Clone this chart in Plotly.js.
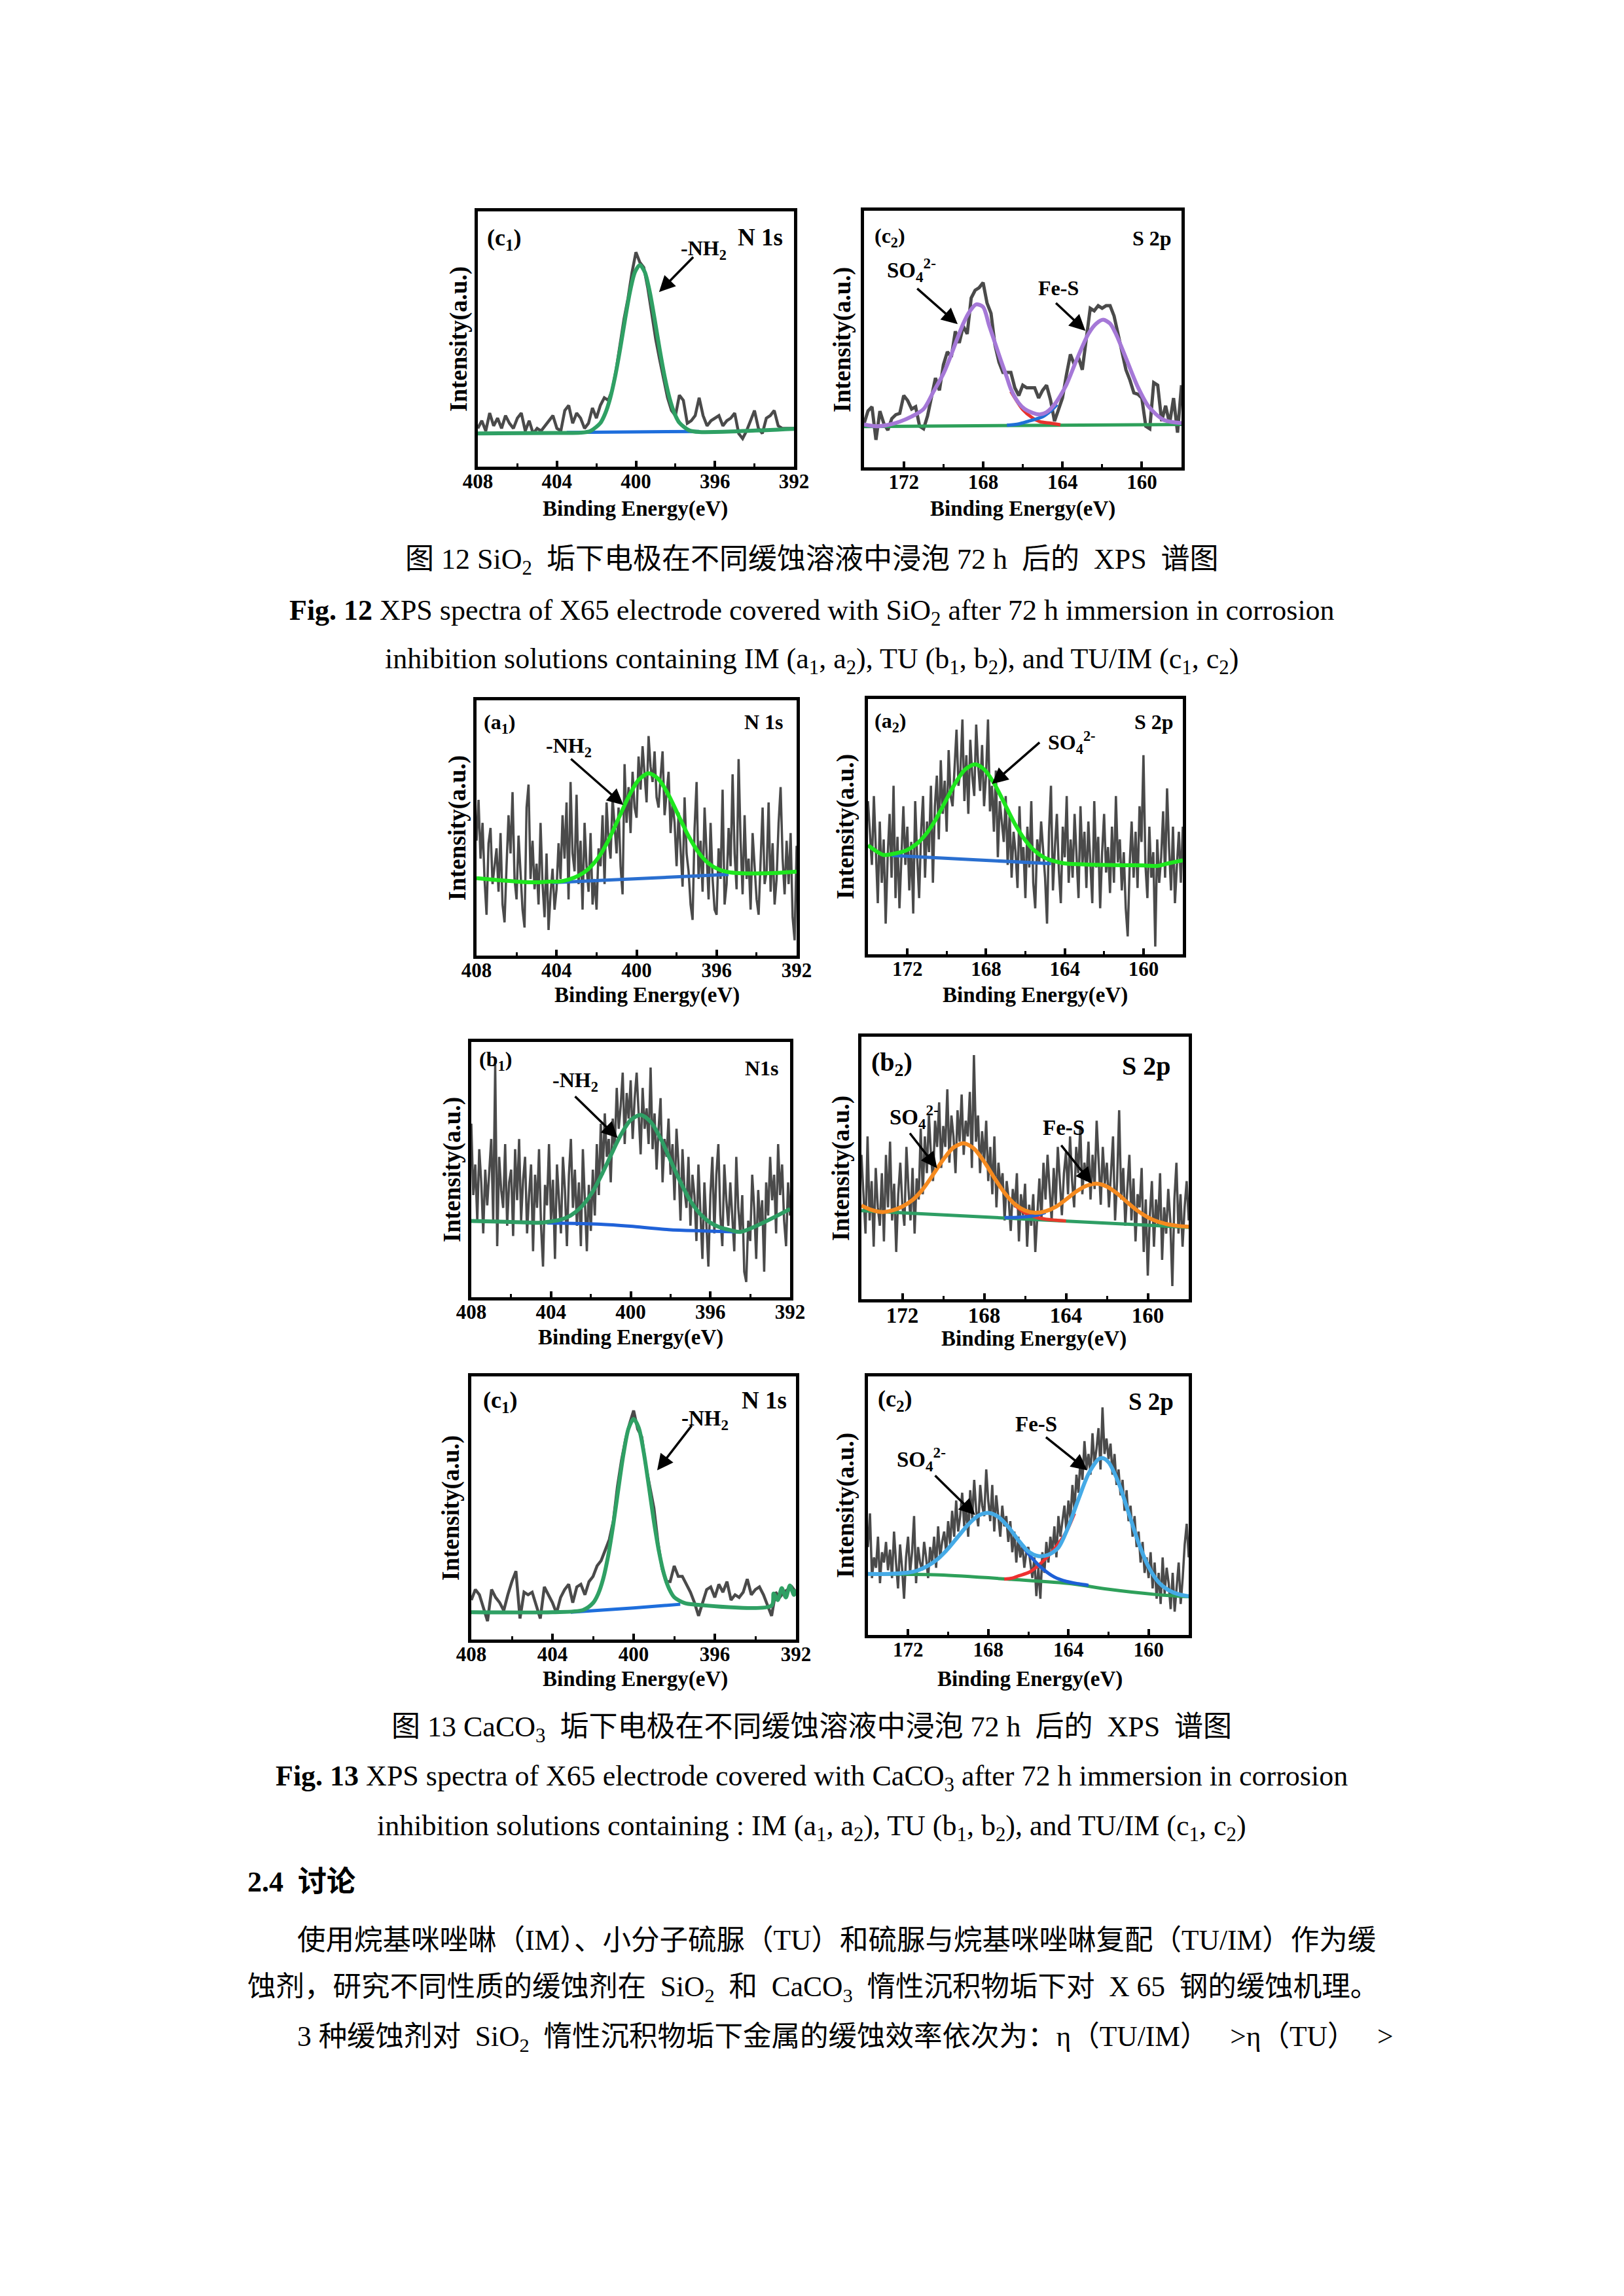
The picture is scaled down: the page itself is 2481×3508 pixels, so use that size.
<!DOCTYPE html>
<html><head><meta charset="utf-8">
<script src="https://cdn.plot.ly/plotly-3.0.1.min.js"></script>
<style>html,body{margin:0;padding:0;background:#fff}</style>
</head><body><div id="page" style="width:2481px;height:3508px"></div>
<script>
// ===== DATA (intensity in arbitrary units, 0..100 of each frame height) =====
// Fig.12 (c1) N 1s, raw from 408 eV, step 0.2 eV
const f12c1_raw=[15,18,14,21,16,19,15,20,17,15,
19,21,14,18,13,15,14,16,18,20,
15,14,22,24,17,21,19,15,17,23,
19,24,27,26,30,38,48,58,66,76,
84,80,78,70,60,50,42,34,27,22,
20,28,26,17,18,20,27,20,16,18,
19,20,16,18,19,21,13,11,14,18,
22,15,13,19,20,22,16,15,15,15,15];
const f12c1_fitE=[408,404,402.8,402.3,401.8,401.55,401.3,401.05,400.8,400.55,400.3,400.05,399.8,399.55,399.3,399.05,398.8,398.55,398.3,398.05,397.8,397.3,396.8,392];
const f12c1_fit=[13,13.2,13.3,14.0,17.1,20.9,26.9,35.4,46,57.7,68.5,76.2,79,76.2,68.5,57.7,46,35.4,26.9,20.9,17.2,14.2,13.6,14.8];
const f12c1_bgE=[403.5,396.8];
const f12c1_bg=[13.4,13.8];

// Fig.12 (c2) S 2p, raw from 174 eV, step 0.2 eV
const f12c2_raw=[17,22,23.6,10.7,21.9,17,14.5,19,20.5,21,
28,26,22.7,23.6,16,15,20,28,34.8,30,
40,45,43,53,48.5,55,52,66,69,70,
72,64,60,47.6,41,37,37,37,31,28,
32,31,31,31,27,30,32,26.2,18,23,
27,36,44,40,43,38,50,62,61,63,
62,63,63,59,52,45,38,34,29,28.5,
27,16,15,33,32,18,24,17,27,13.5,32];
const f12c2_fitE=[174,173.4,172.8,172.2,171.6,171,170.5,170,169.6,169.3,169,168.7,168.35,168,167.7,167.4,167.1,166.8,166.6,166.2,165.9,165.5,165.15,164.8,164.4,164.1,163.8,163.3,162.7,162.3,161.95,161.6,161.3,160.75,160.2,159.65,158.9,158];
const f12c2_fit=[16.7,16,16.5,17.8,19.8,22.7,29.5,36.5,44,50.2,56,60.5,63.5,62.5,55.4,48.5,41.6,35,30.5,25,22.7,21.2,20.6,21.5,24.5,28,32.2,41.6,51.9,56,57.5,56,51.9,41.6,31.3,23.6,18.5,17.2];
const f12c2_bgE=[174,158];
const f12c2_bg=[15.9,16.7];
const f12c2_so4E=[166.6,166,165.5,165.15,164.6,164.1];
const f12c2_so4=[29.6,22.5,19.2,17.8,17.2,16.6];
const f12c2_fesE=[166.8,166.2,165.7,165.0,164.6,164.27];
const f12c2_fes=[16.4,16.9,18,19.7,21.9,24.5];

// Fig.13 (a1) N 1s, raw from 408 eV, step 0.1 eV
const f13a1_raw=[45,61,38,52,30,16,44,50,28,35,
42,25,48,20,13,35,55,40,64,30,
22,47,33,18,11,58,67,30,45,26,
36,20,52,28,15,40,10,24,34,18,
26,44,30,55,38,60,22,68,40,33,
63,28,45,18,52,35,25,48,20,30,
18,42,35,55,28,60,45,38,62,50,
40,58,35,24,75,52,66,48,72,58,
54,78,65,82,70,60,86,74,68,80,
62,58,70,80,55,64,72,48,60,52,
35,56,42,27,62,40,33,20,14,50,
68,30,45,25,58,38,22,52,30,18,
16,42,30,65,20,28,50,35,71,40,
26,77,45,24,55,30,38,18,48,35,
22,16,40,58,28,33,60,25,44,20,
30,52,66,38,24,45,28,48,15,6,43];
const f13a1_fitE=[408,407,406,405,404.4,403.9,403.4,402.9,402.4,401.9,401.4,400.9,400.4,399.9,399.4,398.9,398.4,397.9,397.4,396.9,396.4,395.9,395.4,394.9,394,393,392];
const f13a1_fit=[30.3,29.6,29,28.7,29.0,29.0,29.8,31.3,34,38.5,45.3,53.7,62.2,68.8,71.4,69.1,62.9,54.8,46.8,40.4,36.1,33.8,32.7,32.3,32.2,32.4,32.9];
const f13a1_bgE=[404.2,395.4];
const f13a1_bg=[28.6,31.8];

// Fig.13 (a2) S 2p, raw from 174 eV, step 0.1 eV
const f13a2_raw=[60,48,35,62,40,20,52,28,45,12,
38,55,30,66,22,46,18,40,58,35,
50,25,44,16,60,38,22,48,62,30,
52,40,66,28,58,70,45,76,55,68,
48,80,62,58,74,88,66,72,92,60,
78,55,84,70,62,90,74,64,82,58,
70,92,56,66,48,72,38,60,52,44,
62,35,55,30,48,40,26,58,36,42,
22,50,34,60,28,18,45,36,52,40,
30,12,48,66,25,42,55,33,20,50,
38,62,28,45,30,55,40,22,58,35,
48,26,52,38,20,60,34,46,18,40,
55,32,42,24,50,28,62,36,45,25,
40,18,7,35,52,30,48,26,58,44,
78,35,22,50,30,40,3,45,28,38,
56,30,65,42,25,50,20,35,48,28,50];
const f13a2_fitE=[174,173.6,173.2,172.55,172.05,171.55,171.05,170.55,170.05,169.55,169.05,168.55,168.05,167.55,167.05,166.55,166.05,165.55,165.05,164.55,164,163,162,161,160,159.3,158.8,158];
const f13a2_fit=[42.7,40.5,38.9,39.6,40.7,43.1,47.1,52.9,60.1,67.2,72.5,74.4,72.1,66.4,58.9,51.3,45.1,40.7,37.9,36.5,35.6,35.2,35,34.9,34.8,34.6,35.5,36.8];
const f13a2_bgE=[172.8,168.5,164.7];
const f13a2_bg=[38.7,37.0,35.5];

// Fig.13 (b1) N 1s, raw from 408 eV, step 0.1 eV
const f13b1_raw=[68,40,52,30,58,45,25,50,36,48,
62,30,91,20,55,42,35,60,28,45,
50,24,58,38,62,30,46,55,25,40,
52,18,48,35,58,28,12,44,36,60,
30,46,15,52,38,25,55,42,20,48,
62,35,50,28,45,20,58,38,18,44,
26,50,32,60,40,68,48,72,55,62,
45,70,58,82,66,75,88,60,80,70,
85,62,78,88,70,56,82,66,74,60,
90,58,72,50,66,78,45,62,55,70,
48,60,38,66,52,30,58,42,35,55,
28,48,40,22,52,35,15,45,30,12,
40,55,25,48,60,32,20,52,38,28,
45,30,18,55,35,25,40,10,6,30,
22,48,35,15,42,28,38,10,45,32,
55,38,48,25,60,40,52,30,20,45,32];
const f13b1_fitE=[408,406,404.5,404,403.5,403,402.5,402,401.5,401,400.5,400,399.5,399,398.5,398,397.5,397,396.5,396,395.5,395,394.5,392];
const f13b1_fit=[29.9,29.5,29.2,29.7,30.4,32.1,35.2,40.2,47.3,55.5,63.5,69.4,71.4,68.7,62.2,53.6,45.1,37.7,32.5,29.2,27.3,26.3,25.6,34.6];
const f13b1_bgE=[404.2,401.5,400,398.1,394.5];
const f13b1_bg=[29.1,28.6,27.8,26.5,25.6];

// Fig.13 (b2) S 2p, raw from 174 eV, step 0.1 eV
const f13b2_raw=[55,38,25,62,30,45,20,50,35,28,
48,22,55,35,60,30,44,18,40,52,
36,28,58,42,30,50,25,46,38,65,
40,62,48,70,55,45,68,58,75,50,
66,58,80,52,70,62,48,72,60,78,
55,68,62,79,50,93,60,70,48,64,
52,68,45,58,40,62,35,52,42,48,
30,45,38,26,42,35,48,22,40,32,
44,20,36,28,40,18,33,46,30,52,
38,55,42,30,50,36,58,44,32,48,
56,40,62,45,35,58,48,66,40,52,
45,60,38,55,42,68,50,36,58,44,
52,35,48,62,30,45,72,38,50,28,
42,55,30,46,22,40,35,50,18,38,
9,32,45,20,38,28,48,15,35,25,
42,30,5,38,52,25,40,20,35,45,30];
const f13b2_fitE=[174,173.5,173,172.5,172,171.5,171,170.5,170,169.5,169,168.5,168,167.5,167,166.5,166,165.5,165,164.5,164,163.5,163,162.5,162,161.5,161,160.5,160,159.5,159,158.5,158];
const f13b2_fit=[35.7,34,33.2,33.8,35.3,37.8,41.9,47.4,53.2,57.8,59.4,57.4,52.4,46.2,40.5,36.2,33.8,32.9,33.5,35.2,38,41,43.2,44,42.9,40.3,36.9,33.7,31.2,29.5,28.5,27.9,27.6];
const f13b2_bgE=[174,172.8,158];
const f13b2_bg=[33.7,33.2,27.4];
const f13b2_so4E=[166.5,166,165.5,165,164.5,164];
const f13b2_so4=[35.8,32.9,31.3,30.5,30.1,29.8];
const f13b2_fesE=[167,166.5,166,165.5,165];
const f13b2_fes=[31.1,31.1,31.4,31.9,33.1];

// Fig.13 (c1) N 1s, raw from 408 eV, step 0.2 eV
const f13c1_raw=[15,19,17,12,7,19,16,14,11,17,
22,26,8,18,17,18,13,8,20,17,
14,10,16,19,21,14,20,21,17,22,
24,28,30,34,38,45,58,68,76,82,
87,80,77,66,58,50,37,27,22,22,
28,24,24,21,18,14,9,14,19,20,
16,21,18,22,15,17,16,18,23,17,
19,20,17,13,9,18,16,18,19,20,18];
const f13c1_fitE=[408,404,402.5,402,401.75,401.5,401.25,401,400.75,400.5,400.25,400,399.75,399.5,399.25,399,398.75,398.5,398.25,398,397.5,397,393.2,393.1,392.9,392.7,392.5,392.3,392.1,392];
const f13c1_fit=[10.4,10.4,11.2,13.9,17.3,23.1,32,43.8,57.4,70.5,80.2,83.8,80.5,71.1,58.3,44.9,33.4,24.8,19.3,16.1,13.9,13.3,12.9,17.5,15,19.5,16,20.5,17,19];
const f13c1_bgE=[403.1,400,397.7];
const f13c1_bg=[10.4,12,13.4];

// Fig.13 (c2) S 2p, raw from 174 eV, step 0.1 eV
const f13c2_raw=[34,47,22,30,26,38,20,32,28,36,
25,33,22,40,28,18,35,26,14,30,
38,24,32,46,20,34,28,25,36,30,
22,34,28,38,26,42,30,36,40,32,
44,35,48,38,52,40,46,55,42,50,
38,56,45,60,48,42,58,50,46,64,
52,44,58,40,54,47,38,50,42,46,
36,44,32,40,28,38,30,35,26,32,
34,28,22,30,15,26,14,32,24,36,
28,38,32,42,30,46,38,44,50,40,
52,45,58,48,62,55,68,60,75,64,
70,62,78,66,72,80,64,88,70,76,
68,74,62,70,58,64,54,60,48,56,
44,50,38,46,34,40,28,36,24,30,
22,32,18,28,14,24,12,30,16,26,
20,10,24,9,18,28,12,22,35,43,30];
const f13c2_fitE=[174,173,172,171.5,171,170.5,170,169.5,169,168.5,168,167.5,167,166.5,166,165.5,165,164.5,164,163.5,163,162.5,162.3,162,161.5,161,160.5,160,159.5,159,158.5,158];
const f13c2_fit=[23.6,23.6,24.1,25,26.8,29.5,33.4,38.1,42.7,46.1,47.2,45.7,41.8,36.7,32.3,30.5,31.0,33.8,41.9,52.5,62.3,68,68.4,66.8,58.9,47.3,35.6,26.3,20.4,17.3,15.7,15];
const f13c2_bgE=[174,170.45,166.85,163.85,162.05,159.6,158];
const f13c2_bg=[23.6,23.2,21.5,19.8,17.7,15.6,14.8];
const f13c2_fesE=[167.2,166.8,166.5,165.9,165.3,164.7,164.1,163.7];
const f13c2_fes=[21.6,22,22.8,24.5,28.3,33.3,40,47];
const f13c2_so4E=[166.5,165.9,165.3,164.7,164.1,163.5,163];
const f13c2_so4=[36.5,30.5,25.7,22.4,20.7,19.8,19.2];

const ticksN=[408,404,400,396,392], minorN=[406,402,398,394];
const ticksS=[172,168,164,160], minorS=[170,166,162];

// ===== LAYOUT HELPERS =====
const W=2481,H=3508;
const SERIF="Liberation Serif, 'Noto Sans CJK SC', serif";
const px=x=>x/W, py=y=>1-y/H;
const GRAY='#4a4a4a';

const panels=[
 {L:730,R:1213,T:323,B:713,kind:'N',xt:[971,777],yt:[701,518]},
 {L:1320,R:1805,T:322,B:714,kind:'S',xt:[1562,777],yt:[1287,519]},
 {L:728,R:1217,T:1070,B:1460,kind:'N',xt:[988,1520],yt:[699,1265]},
 {L:1326,R:1807,T:1068,B:1458,kind:'S',xt:[1581,1520],yt:[1292,1263]},
 {L:720,R:1207,T:1592,B:1982,kind:'N',xt:[963,2044],yt:[691,1787]},
 {L:1316,R:1816,T:1584,B:1985,kind:'S',xt:[1579,2045],yt:[1285,1785],big:true},
 {L:720,R:1216,T:2103,B:2505,kind:'N',xt:[970,2565],yt:[689,2304]},
 {L:1326,R:1816,T:2103,B:2498,kind:'S',xt:[1573,2565],yt:[1292,2300]}
];
const ax=i=>i===0?'':String(i+1);

const traces=[];
function raw(i,y,x0,dx,w){traces.push({type:'scatter',mode:'lines',y:y,x0:x0,dx:dx,xaxis:'x'+ax(i),yaxis:'y'+ax(i),line:{color:GRAY,width:w||3.5},hoverinfo:'skip'});}
function curve(i,x,y,color,w,shape){traces.push({type:'scatter',mode:'lines',x:x,y:y,xaxis:'x'+ax(i),yaxis:'y'+ax(i),line:{color:color,width:w,shape:shape||'spline',smoothing:0.8},hoverinfo:'skip'});}

raw(0,f12c1_raw,408,-0.2,4.5);
curve(0,f12c1_bgE,f12c1_bg,'#1e6edc',5,'linear');
curve(0,f12c1_fitE,f12c1_fit,'#2fa064',6);
raw(1,f12c2_raw,174,-0.2,5);
curve(1,f12c2_bgE,f12c2_bg,'#2ea05a',5,'linear');
curve(1,f12c2_so4E,f12c2_so4,'#e8322d',5);
curve(1,f12c2_fesE,f12c2_fes,'#1f6fd6',5);
curve(1,f12c2_fitE,f12c2_fit,'#a578d7',6);
raw(2,f13a1_raw,408,-0.1);
curve(2,f13a1_bgE,f13a1_bg,'#2a6fd0',5,'linear');
curve(2,f13a1_fitE,f13a1_fit,'#1ee61e',6);
raw(3,f13a2_raw,174,-0.1);
curve(3,f13a2_bgE,f13a2_bg,'#2a6fd0',5);
curve(3,f13a2_fitE,f13a2_fit,'#1ee61e',6);
raw(4,f13b1_raw,408,-0.1);
curve(4,f13b1_bgE,f13b1_bg,'#2062d8',5);
curve(4,f13b1_fitE,f13b1_fit,'#2e9e64',6);
raw(5,f13b2_raw,174,-0.1);
curve(5,f13b2_bgE,f13b2_bg,'#2e9e64',5,'linear');
curve(5,f13b2_so4E,f13b2_so4,'#e83a2a',5);
curve(5,f13b2_fesE,f13b2_fes,'#2462d6',5);
curve(5,f13b2_fitE,f13b2_fit,'#f58a1f',6);
raw(6,f13c1_raw,408,-0.2,4.5);
curve(6,f13c1_bgE,f13c1_bg,'#1e6edc',5);
curve(6,f13c1_fitE,f13c1_fit,'#2fa064',6);
raw(7,f13c2_raw,174,-0.1);
curve(7,f13c2_bgE,f13c2_bg,'#2ea05a',5);
curve(7,f13c2_fesE,f13c2_fes,'#ee3030',5);
curve(7,f13c2_so4E,f13c2_so4,'#1d5fd6',5);
curve(7,f13c2_fitE,f13c2_fit,'#45aae6',6);

const layout={width:W,height:H,margin:{l:0,r:0,t:0,b:0},paper_bgcolor:'#fff',plot_bgcolor:'#fff',showlegend:false,annotations:[]};
panels.forEach((p,i)=>{
  const isN=p.kind==='N';
  layout['xaxis'+ax(i)]={domain:[px(p.L),px(p.R)],anchor:'y'+ax(i),range:isN?[408,392]:[174,158],
    tickmode:'array',tickvals:isN?ticksN:ticksS,ticks:'inside',ticklen:9,tickwidth:4,tickcolor:'#000',
    minor:{tickmode:'array',tickvals:isN?minorN:minorS,ticks:'inside',ticklen:5,tickwidth:3,tickcolor:'#000'},
    showline:true,linewidth:5,linecolor:'#000',mirror:true,showgrid:false,zeroline:false,
    tickfont:{family:SERIF,size:p.big?33:31,color:'#000',weight:'bold'},ticklabelstandoff:-9,fixedrange:true};
  layout['yaxis'+ax(i)]={domain:[py(p.B),py(p.T)],anchor:'x'+ax(i),range:[0,100],showticklabels:false,ticks:'',
    showline:true,linewidth:5,linecolor:'#000',mirror:true,showgrid:false,zeroline:false,fixedrange:true};
  layout.annotations.push({xref:'paper',yref:'paper',x:px(p.xt[0]),y:py(p.xt[1]),text:'Binding Energy(eV)',showarrow:false,
    font:{family:SERIF,size:33,color:'#000',weight:'bold'},xanchor:'center',yanchor:'middle'});
  layout.annotations.push({xref:'paper',yref:'paper',x:px(p.yt[0]),y:py(p.yt[1]),text:'Intensity(a.u.)',showarrow:false,textangle:-90,
    font:{family:SERIF,size:37,color:'#000',weight:'bold'},xanchor:'center',yanchor:'middle'});
});

// in-panel labels: [panel, x, y, text, anchor, size]
const labels=[
 [0,407.6,89,'(c<sub>1</sub>)','left',36],[0,392.5,90,'N 1s','right',37],[0,397.8,85,'-NH<sub>2</sub>','left',32],
 [1,173.54,89.7,'(c<sub>2</sub>)','left',32],[1,158.43,89.3,'S 2p','right',32],[1,172.91,76.8,'SO<sub>4</sub><sup>2-</sup>','left',33],[1,165.3,70,'Fe-S','left',32],
 [2,407.7,91,'(a<sub>1</sub>)','left',32],[2,392.6,91.5,'N 1s','right',32],[2,404.6,81.6,'-NH<sub>2</sub>','left',32],
 [3,173.75,91,'(a<sub>2</sub>)','left',32],[3,158.4,91,'S 2p','right',32],[3,164.93,82.9,'SO<sub>4</sub><sup>2-</sup>','left',32],
 [4,407.66,92.7,'(b<sub>1</sub>)','left',32],[4,392.5,89.7,'N1s','right',32],[4,404,84.6,'-NH<sub>2</sub>','left',32],
 [5,173.6,89.8,'(b<sub>2</sub>)','left',40],[5,158.8,89,'S 2p','right',40],[5,172.7,69.4,'SO<sub>4</sub><sup>2-</sup>','left',33],[5,165.2,65.3,'Fe-S','left',33],
 [6,407.5,90.5,'(c<sub>1</sub>)','left',36],[6,392.4,90.9,'N 1s','right',37],[6,397.7,83.4,'-NH<sub>2</sub>','left',33],
 [7,173.58,90.7,'(c<sub>2</sub>)','left',36],[7,158.68,90.3,'S 2p','right',37],[7,166.73,81.4,'Fe-S','left',33],[7,172.62,67.9,'SO<sub>4</sub><sup>2-</sup>','left',33]
];
labels.forEach(l=>layout.annotations.push({xref:'x'+ax(l[0]),yref:'y'+ax(l[0]),x:l[1],y:l[2],text:l[3],showarrow:false,
  xanchor:l[4],yanchor:'middle',font:{family:SERIF,size:l[5],color:'#000',weight:'bold'}}));
// arrows: [panel, headX, headY, tailX, tailY]
const arrows=[
 [0,398.83,68.4,397.05,82.5],
 [1,169.28,55.8,171.37,70],[1,162.84,53.2,164.38,64.4],
 [2,400.66,59,403.33,77.4],
 [3,167.7,66.7,165.23,83.3],
 [4,400.65,62.4,402.84,79],
 [5,170.3,49.9,171.67,63.6],[5,162.73,44,164.27,59],
 [6,398.84,64.3,397.1,81.7],
 [7,163.06,63.7,165.17,76.8],[7,168.65,46.4,170.7,62]
];
arrows.forEach(a=>{const k=ax(a[0]);layout.annotations.push({xref:'x'+k,yref:'y'+k,axref:'x'+k,ayref:'y'+k,x:a[1],y:a[2],ax:a[3],ay:a[4],
  text:'',showarrow:true,arrowhead:2,arrowsize:1.4,arrowwidth:3.5,arrowcolor:'#000'});});

// page text
const T=(x,y,text,size,anchor,bold)=>layout.annotations.push({xref:'paper',yref:'paper',x:px(x),y:py(y),text:text,showarrow:false,
  xanchor:anchor,yanchor:'middle',font:{family:SERIF,size:size,color:'#000',weight:bold?'bold':'normal'}});
T(1240,857,'图 12 SiO<sub>2</sub>  垢下电极在不同缓蚀溶液中浸泡 72 h  后的  XPS  谱图',44,'center');
T(1240,935,'<b>Fig. 12</b> XPS spectra of X65 electrode covered with SiO<sub>2</sub> after 72 h immersion in corrosion',44,'center');
T(1240,1009,'inhibition solutions containing IM (a<sub>1</sub>, a<sub>2</sub>), TU (b<sub>1</sub>, b<sub>2</sub>), and TU/IM (c<sub>1</sub>, c<sub>2</sub>)',44,'center');
T(1240,2641,'图 13 CaCO<sub>3</sub>  垢下电极在不同缓蚀溶液中浸泡 72 h  后的  XPS  谱图',44,'center');
T(1240,2716,'<b>Fig. 13</b> XPS spectra of X65 electrode covered with CaCO<sub>3</sub> after 72 h immersion in corrosion',44,'center');
T(1240,2792,'inhibition solutions containing : IM (a<sub>1</sub>, a<sub>2</sub>), TU (b<sub>1</sub>, b<sub>2</sub>), and TU/IM (c<sub>1</sub>, c<sub>2</sub>)',44,'center');
T(376,2875,'2.4  讨论',44,'left',true);
T(452,2964,'使用烷基咪唑啉（IM）、小分子硫脲（TU）和硫脲与烷基咪唑啉复配（TU/IM）作为缓',43.5,'left');
T(376,3038,'蚀剂，研究不同性质的缓蚀剂在  SiO<sub>2</sub>  和  CaCO<sub>3</sub>  惰性沉积物垢下对  X 65  钢的缓蚀机理。',43.5,'left');
T(452,3114,'3 种缓蚀剂对  SiO<sub>2</sub>  惰性沉积物垢下金属的缓蚀效率依次为：η（TU/IM）   >η（TU）   >',43.5,'left');

Plotly.newPlot('page',traces,layout,{staticPlot:true,displayModeBar:false});
</script></body></html>
